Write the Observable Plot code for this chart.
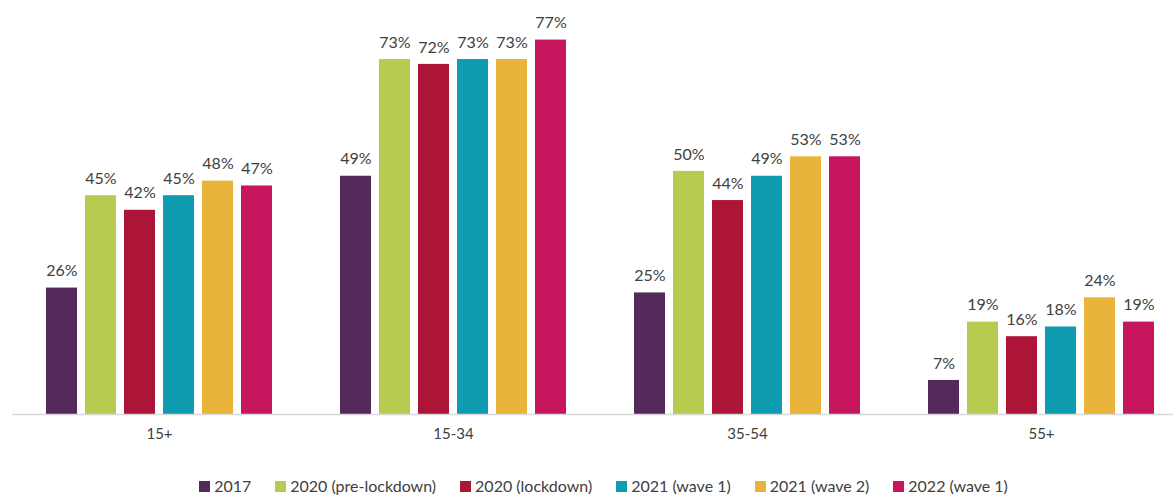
<!DOCTYPE html>
<html>
<head>
<meta charset="utf-8">
<script src="https://cdn.jsdelivr.net/npm/d3@7"></script>
<script src="https://cdn.jsdelivr.net/npm/@observablehq/plot@0.6"></script>
<style>
  body { margin: 0; background: #fff; font-family: Lato, "Open Sans", sans-serif; }
  #chart svg { display: block; }
  .legend { display: flex; justify-content: center; align-items: center; gap: 0 24px; margin-top: 17px; margin-left: 34px; font-size: 16px; line-height: 18px; color: #404040; }
  .legend span.item { display: inline-flex; align-items: center; }
  .legend i { display: inline-block; width: 11px; height: 11px; margin-right: 4px; }
</style>
</head>
<body>
<div id="chart"></div>
<div class="legend" id="legend"></div>
<script>
const groups = ["15+", "15-34", "35-54", "55+"];
const series = ["2017", "2020 (pre-lockdown)", "2020 (lockdown)", "2021 (wave 1)", "2021 (wave 2)", "2022 (wave 1)"];
const colors = ["#532A5A", "#B8CB50", "#AD1538", "#0F9CB0", "#E8B53A", "#C8165E"];
const v2017        = [26, 49, 25, 7];
const vPreLockdown = [45, 73, 50, 19];
const vLockdown    = [42, 72, 44, 16];
const vWave1_2021  = [45, 73, 49, 18];
const vWave2_2021  = [48, 73, 53, 24];
const vWave1_2022  = [47, 77, 53, 19];
const seriesValues = [v2017, vPreLockdown, vLockdown, vWave1_2021, vWave2_2021, vWave1_2022];

const data = [];
groups.forEach((g, gi) => series.forEach((s, si) => data.push({group: g, series: s, value: seriesValues[si][gi]})));

const chart = Plot.plot({
  width: 1173,
  height: 460,
  marginLeft: 27,
  marginRight: 0,
  marginTop: 25,
  marginBottom: 46,
  style: {fontFamily: "Lato, 'Open Sans', sans-serif", fontSize: "15px", color: "#404040", background: "#fff"},
  fx: {domain: groups, paddingInner: 0.102, paddingOuter: 0, round: false, label: null, tickSize: 0, tickPadding: 14, axis: "bottom"},
  x: {domain: series, paddingInner: 0.205, paddingOuter: 0.487, round: false, axis: null},
  y: {domain: [0, 80], axis: null},
  color: {domain: series, range: colors},
  marks: [
    Plot.barY(data, {fx: "group", x: "series", y: "value", fill: "series"}),
    Plot.ruleY([0], {stroke: "#d9d9d9", strokeWidth: 1.5, insetLeft: -15, insetRight: -15}),
    Plot.text(data, {fx: "group", x: "series", y: "value", text: d => d.value + "%", dy: -17, fill: "#404040", fontSize: 16})
  ]
});
document.getElementById("chart").appendChild(chart);

const legend = document.getElementById("legend");
series.forEach((s, i) => {
  const item = document.createElement("span");
  item.className = "item";
  item.innerHTML = `<i style="background:${colors[i]}"></i>${s}`;
  legend.appendChild(item);
});
</script>
</body>
</html>
